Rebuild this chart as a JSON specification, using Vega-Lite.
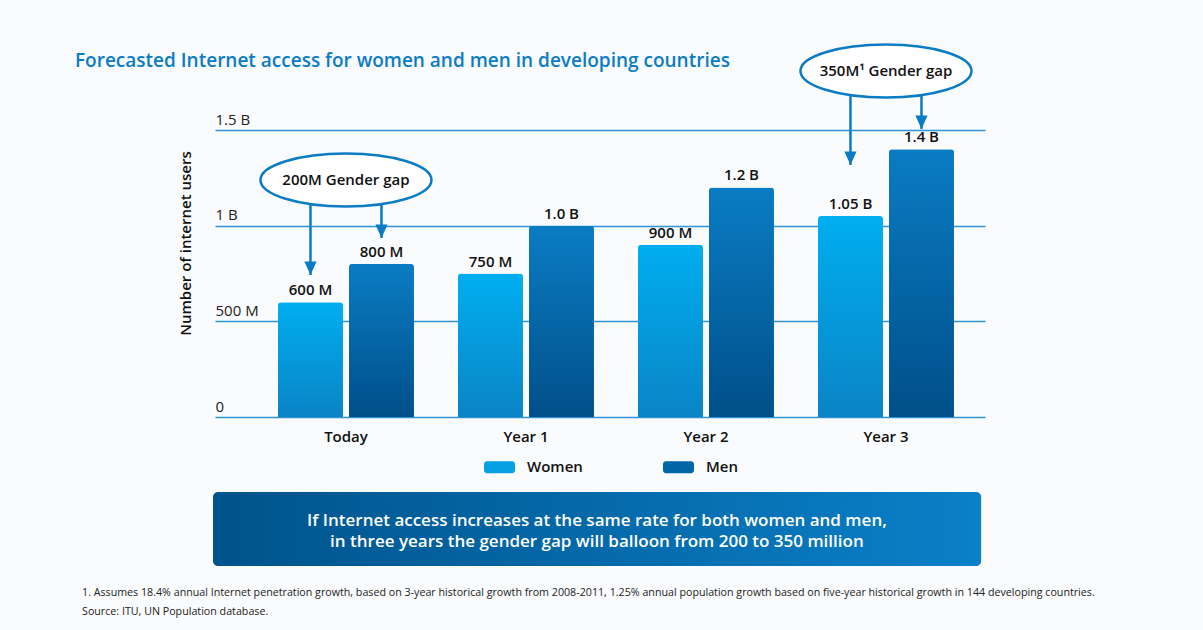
{
  "$schema": "https://vega.github.io/schema/vega-lite/v6.json",
  "width": 770,
  "height": 287,
  "autosize": {"type": "none"},
  "padding": {"left": 215, "top": 130, "right": 218, "bottom": 213},
  "background": "#fafbfc",
  "config": {"view": {"stroke": null}, "font": "Open Sans"},
  "title": {
    "text": "Forecasted Internet access for women and men in developing countries",
    "anchor": "start",
    "frame": "group",
    "dx": -140,
    "dy": 32,
    "fontSize": 19,
    "fontWeight": 600,
    "color": "#0a7cc5",
    "font": "Open Sans",
    "offset": 0
  },
  "datasets": {
    "bars": [
      {"period": "Today", "gender": "Women", "users": 600000000, "label": "600 M"},
      {"period": "Today", "gender": "Men", "users": 800000000, "label": "800 M"},
      {"period": "Year 1", "gender": "Women", "users": 750000000, "label": "750 M"},
      {"period": "Year 1", "gender": "Men", "users": 1000000000, "label": "1.0 B"},
      {"period": "Year 2", "gender": "Women", "users": 900000000, "label": "900 M"},
      {"period": "Year 2", "gender": "Men", "users": 1200000000, "label": "1.2 B"},
      {"period": "Year 3", "gender": "Women", "users": 1050000000, "label": "1.05 B"},
      {"period": "Year 3", "gender": "Men", "users": 1400000000, "label": "1.4 B"}
    ],
    "callouts": [
      {"period": "Today", "level": 1238700000, "text": "200M Gender gap"},
      {"period": "Year 3", "level": 1808400000, "text": "350M¹ Gender gap"}
    ],
    "arrows": [
      {"period": "Today", "gender": "Women", "from": 1113000000, "to": 742000000},
      {"period": "Today", "gender": "Men", "from": 1108000000, "to": 935500000},
      {"period": "Year 3", "gender": "Women", "from": 1683000000, "to": 1317000000},
      {"period": "Year 3", "gender": "Men", "from": 1688000000, "to": 1505000000}
    ],
    "notes": [
      {
        "banner": "If Internet access increases at the same rate for both women and men,\nin three years the gender gap will balloon from 200 to 350 million",
        "footnote": "1.  Assumes 18.4% annual Internet penetration growth, based on 3-year historical growth from 2008-2011, 1.25% annual population growth based on five-year historical growth in 144 developing countries.\nSource: ITU, UN Population database."
      }
    ]
  },
  "resolve": {"scale": {"x": "independent"}},
  "layer": [
    {
      "encoding": {
        "x": {
          "field": "period",
          "type": "nominal",
          "sort": null,
          "scale": {"domain": ["Today", "Year 1", "Year 2", "Year 3"], "paddingInner": 0.2444, "paddingOuter": 0.2611, "align": 0.67},
          "axis": {"title": null, "domain": false, "ticks": false, "labelPadding": 12, "labelFontSize": 15, "labelFontWeight": 600, "labelColor": "#111111", "labelAngle": 0, "labelFont": "Open Sans"}
        }
      },
      "layer": [
        {
          "data": {"name": "bars"},
          "mark": {"type": "bar", "cornerRadiusTopLeft": 3, "cornerRadiusTopRight": 3, "opacity": 0},
          "encoding": {
            "xOffset": {"field": "gender", "type": "nominal", "scale": {"domain": ["Women", "Men"], "paddingInner": 0.0845}},
            "y": {
              "field": "users",
              "type": "quantitative",
              "scale": {"domain": [0, 1500000000], "nice": false, "zero": true},
              "axis": {
                "title": "Number of internet users",
                "values": [0, 500000000, 1000000000, 1500000000],
                "labelExpr": "datum.value == 0 ? '0' : (datum.value >= 1000000000 ? (datum.value / 1000000000) + ' B' : (datum.value / 1000000) + ' M')",
                "domain": false,
                "ticks": false,
                "tickSize": 0,
                "labelPadding": 0,
                "labelAlign": "left",
                "labelBaseline": "alphabetic",
                "labelOffset": -6,
                "labelFlush": false,
                "labelOverlap": false,
                "labelBound": false,
                "labelFontSize": 15,
                "labelColor": "#222222",
                "labelFont": "Open Sans",
                "grid": true,
                "gridColor": "#2f93d6",
                "gridWidth": 1.5,
                "titleFont": "Open Sans",
                "titleFontSize": 15,
                "titleFontWeight": 600,
                "titleColor": "#111111",
                "titleAngle": -90,
                "titleAlign": "center",
                "titleBaseline": "middle",
                "titleX": -30,
                "titleY": 113
              }
            },
            "color": {
              "field": "gender",
              "type": "nominal",
              "scale": {"domain": ["Women", "Men"], "range": ["#07a0e2", "#0066a6"]},
              "legend": {
                "orient": "none",
                "legendX": 269,
                "legendY": 321.5,
                "direction": "horizontal",
                "title": null,
                "padding": 0,
                "symbolType": "M-0.81,-0.387H0.81A0.19,0.19 0 0 1 1,-0.197V0.197A0.19,0.19 0 0 1 0.81,0.387H-0.81A0.19,0.19 0 0 1 -1,0.197V-0.197A0.19,0.19 0 0 1 -0.81,-0.387Z",
                "symbolSize": 961,
                "symbolStrokeWidth": 0,
                "symbolOpacity": 1,
                "labelFont": "Open Sans",
                "labelFontSize": 15,
                "labelFontWeight": 600,
                "labelColor": "#111111",
                "labelOffset": 12,
                "columnPadding": 80
              }
            }
          }
        },
        {
          "data": {"name": "bars"},
          "mark": {"type": "bar", "cornerRadiusTopLeft": 3, "cornerRadiusTopRight": 3},
          "encoding": {
            "xOffset": {"field": "gender", "type": "nominal", "scale": {"domain": ["Women", "Men"], "paddingInner": 0.0845}},
            "y": {"field": "users", "type": "quantitative"},
            "color": {
              "condition": {
                "test": "datum.gender === 'Women'",
                "value": {"gradient": "linear", "x1": 0, "y1": 0, "x2": 0, "y2": 1, "stops": [{"offset": 0, "color": "#00aeef"}, {"offset": 1, "color": "#0a84c6"}]}
              },
              "value": {"gradient": "linear", "x1": 0, "y1": 0, "x2": 0, "y2": 1, "stops": [{"offset": 0, "color": "#0a7cc3"}, {"offset": 1, "color": "#004f89"}]}
            }
          }
        },
        {
          "data": {"name": "bars"},
          "mark": {"type": "text", "baseline": "alphabetic", "align": "center", "dy": -7, "fontSize": 15, "fontWeight": 600, "color": "#111111", "font": "Open Sans"},
          "encoding": {
            "xOffset": {"field": "gender", "type": "nominal", "scale": {"domain": ["Women", "Men"], "paddingInner": 0.0845}},
            "y": {"field": "users", "type": "quantitative"},
            "text": {"field": "label", "type": "nominal"}
          }
        },
        {
          "data": {"name": "arrows"},
          "mark": {"type": "rule", "color": "#0a7cc5", "strokeWidth": 2.5},
          "encoding": {
            "xOffset": {"field": "gender", "type": "nominal", "scale": {"domain": ["Women", "Men"], "paddingInner": 0.0845}},
            "y": {"field": "from", "type": "quantitative"},
            "y2": {"field": "to"}
          }
        },
        {
          "data": {"name": "arrows"},
          "mark": {"type": "point", "shape": "M-0.45,-1L0.45,-1L0,0Z", "size": 729, "filled": true, "color": "#0a7cc5", "opacity": 1, "strokeWidth": 0},
          "encoding": {
            "xOffset": {"field": "gender", "type": "nominal", "scale": {"domain": ["Women", "Men"], "paddingInner": 0.0845}},
            "y": {"field": "to", "type": "quantitative"}
          }
        },
        {
          "data": {"name": "callouts"},
          "mark": {"type": "point", "shape": "M-1,0A1,0.31 0 1,1 1,0A1,0.31 0 1,1 -1,0Z", "size": 29241, "filled": false, "fill": "#ffffff", "fillOpacity": 1, "stroke": "#0a7cc5", "strokeWidth": 2.5, "opacity": 1},
          "encoding": {
            "y": {"field": "level", "type": "quantitative"}
          }
        },
        {
          "data": {"name": "callouts"},
          "mark": {"type": "text", "align": "center", "baseline": "middle", "fontSize": 15, "fontWeight": 600, "color": "#111111", "font": "Open Sans"},
          "encoding": {
            "y": {"field": "level", "type": "quantitative"},
            "text": {"field": "text", "type": "nominal"}
          }
        }
      ]
    },
    {
      "data": {"name": "notes"},
      "mark": {"type": "rect", "cornerRadius": 5, "color": {"gradient": "linear", "x1": 0, "y1": 0, "x2": 1, "y2": 0, "stops": [{"offset": 0, "color": "#00538b"}, {"offset": 1, "color": "#0a80c8"}]}},
      "encoding": {
        "x": {"datum": -0.0026, "type": "quantitative", "scale": {"domain": [0, 1], "nice": false, "zero": false}, "axis": null},
        "x2": {"datum": 0.995},
        "y": {"datum": -392000000, "type": "quantitative"},
        "y2": {"datum": -778700000}
      }
    },
    {
      "data": {"name": "notes"},
      "mark": {"type": "text", "align": "center", "baseline": "middle", "lineBreak": "\n", "lineHeight": 21, "fontSize": 17, "fontWeight": 600, "color": "#ffffff", "font": "Open Sans"},
      "encoding": {
        "x": {"datum": 0.496, "type": "quantitative", "scale": {"domain": [0, 1], "nice": false, "zero": false}, "axis": null},
        "y": {"datum": -543600000, "type": "quantitative"},
        "text": {"field": "banner", "type": "nominal"}
      }
    },
    {
      "data": {"name": "notes"},
      "mark": {"type": "text", "align": "left", "baseline": "middle", "lineBreak": "\n", "lineHeight": 19, "fontSize": 10.7, "color": "#222222", "font": "Open Sans"},
      "encoding": {
        "x": {"datum": -0.1727, "type": "quantitative", "scale": {"domain": [0, 1], "nice": false, "zero": false}, "axis": null},
        "y": {"datum": -919900000, "type": "quantitative"},
        "text": {"field": "footnote", "type": "nominal"}
      }
    }
  ]
}
